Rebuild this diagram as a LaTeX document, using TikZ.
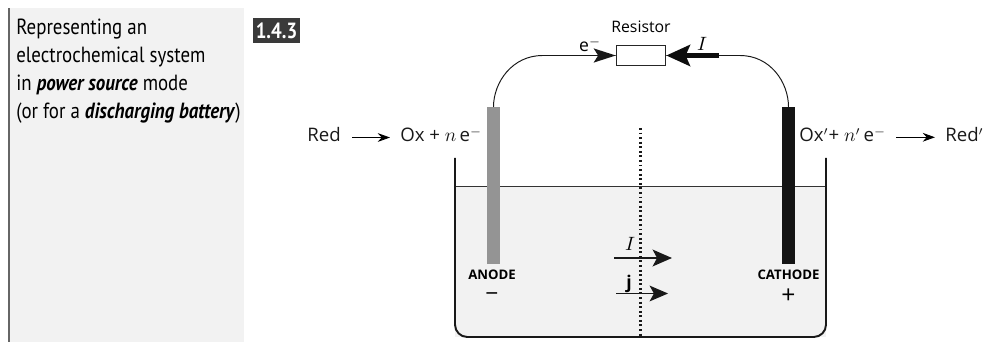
\documentclass[tikz,border=0pt]{standalone}
\usepackage{fontspec}
\setmainfont{Open Sans}
\newfontfamily\narrowfont[FakeStretch=0.86]{PT Sans}
\usepackage{xcolor}
\usetikzlibrary{arrows.meta,calc}
\definecolor{panelgray}{HTML}{F2F2F2}
\definecolor{tagdark}{HTML}{3A3A3A}
\tikzset{
 electrode/.style={rectangle,draw=none,minimum width=0.26cm,minimum height=3.14cm,inner sep=0pt,anchor=north},
 eqn/.style={font=\fontsize{10.6}{12}\selectfont,inner sep=0pt,text=black!90},
 reaction/.style={-{Stealth[length=7pt,width=5pt]},line width=0.5pt},
 wire/.style={line width=0.55pt,black!90},
 tiplabel/.style={font=\bfseries\fontsize{7.5}{8}\selectfont,inner sep=0pt},
}
\begin{document}
\begin{tikzpicture}[scale=1.0,transform shape]
\useasboundingbox (0,0) rectangle (19.68,6.84);
\fill[panelgray] (0.16,0) rectangle (4.88,6.68);
\fill[black!60] (0.16,0) rectangle (0.2,6.68);
\node[anchor=north west,align=left,inner sep=0pt,font=\narrowfont\fontsize{12.5}{15.9}\selectfont] (sidetext) at (0.32,6.47)
 {Representing an\\electrochemical system\\in \textbf{\textit{power source}} mode\\(or for a \textbf{\textit{discharging battery}})};
\node[fill=tagdark,text=white,inner sep=0pt,minimum width=0.94cm,minimum height=0.5cm,font=\narrowfont\bfseries\fontsize{12.5}{14}\selectfont] (tag) at (5.53,6.22){1.4.3};
% bath
\fill[panelgray] (9.1,0.1) rectangle (16.52,3.12);
\draw[line width=0.45pt,black!80] (9.1,3.11)--(16.52,3.11);
\draw[line width=1.1pt,black!90,rounded corners=7pt] (9.1,3.68)--(9.1,0.1)--(16.52,0.1)--(16.52,3.68);
\coordinate (sepbottom) at (12.81,0.1);
\coordinate (septop) at (12.81,4.28);
\draw[line width=1.4pt,black!90,dash pattern=on 1.1pt off 1.5pt] (septop)--(sepbottom);
% electrodes
\node[electrode,fill=black!42] (anode) at (9.87,4.7){};
\node[electrode,fill=black!92] (cathode) at (15.77,4.7){};
\node[tiplabel] (anodelabel) at (9.84,1.35){ANODE};
\node[font=\fontsize{13}{14}\selectfont,inner sep=0pt] (anodesign) at (9.84,0.9){−};
\node[tiplabel] (cathodelabel) at (15.77,1.35){CATHODE};
\node[font=\fontsize{14}{15}\selectfont,inner sep=0pt] (cathodesign) at (15.77,0.92){+};
% circuit
\node[draw=black!85,fill=white,line width=0.6pt,minimum width=0.99cm,minimum height=0.4cm,inner sep=0pt] (resistor) at (12.82,5.73){};
\node[font=\fontsize{9}{11}\selectfont,inner sep=0pt] (resistorlabel) at (12.82,6.3){Resistor};
\draw[wire] (anode.north) .. controls (9.87,5.2) and (10.25,5.73) .. (10.85,5.73)--(resistor.west);
\draw[wire] (cathode.north) .. controls (15.77,5.2) and (15.4,5.73) .. (14.8,5.73)--(resistor.east);
\coordinate (etail) at (11.44,5.73);
\coordinate (itail) at (14.38,5.73);
\draw[-{Stealth[length=12.5pt,width=8pt,inset=2.5pt]},line width=1pt,black!90] (etail)--(resistor.west);
\draw[-{Stealth[length=13.5pt,width=12pt,inset=2.5pt]},line width=2.6pt,black!95] (itail)--(resistor.east);
\node[font=\fontsize{10}{11}\selectfont,inner sep=0pt] (elabel) at (11.8,5.94){e$^-$};
\node[font=\fontsize{11}{12}\selectfont,inner sep=0pt] (ilabel) at (14.04,5.97){$I$};
% reactions
\node[eqn,anchor=base west] (redleft) at (6.14,4.0){Red};
\node[eqn,anchor=base west] (oxleft) at (8.0,4.0){Ox + $n$\,e$^-$};
\node[eqn,anchor=base west] (oxright) at (15.98,4.0){Ox$'$+ $n'$\,e$^-$};
\node[eqn,anchor=base west] (redright) at (18.9,4.0){Red$'$};
\draw[reaction] ($(redleft.east)+(0.22,-0.05)$) coordinate (redtail) -- ($(oxleft.west |- redtail)+(-0.2,0)$);
\draw[reaction] ($(oxright.east)+(0.2,-0.05)$) coordinate (oxtail) -- ($(redright.west |- oxtail)+(-0.2,0)$);
% flux
\coordinate (itailb) at (12.28,1.68);
\coordinate (iheadb) at (13.44,1.68);
\coordinate (jtail) at (12.32,0.97);
\coordinate (jhead) at (13.36,0.97);
\draw[-{Stealth[length=11pt,width=9.5pt,inset=2.5pt]},line width=1.2pt,black!90] (itailb)--(iheadb);
\draw[-{Stealth[length=10.5pt,width=9pt,inset=2.5pt]},line width=0.6pt,black!90] (jtail)--(jhead);
\node[font=\fontsize{11}{12}\selectfont,inner sep=0pt] (ibath) at (12.6,1.96){$I$};
\node[font=\bfseries\fontsize{10}{12}\selectfont,inner sep=0pt] (jbath) at (12.58,1.17){j};
\end{tikzpicture}
\end{document}
